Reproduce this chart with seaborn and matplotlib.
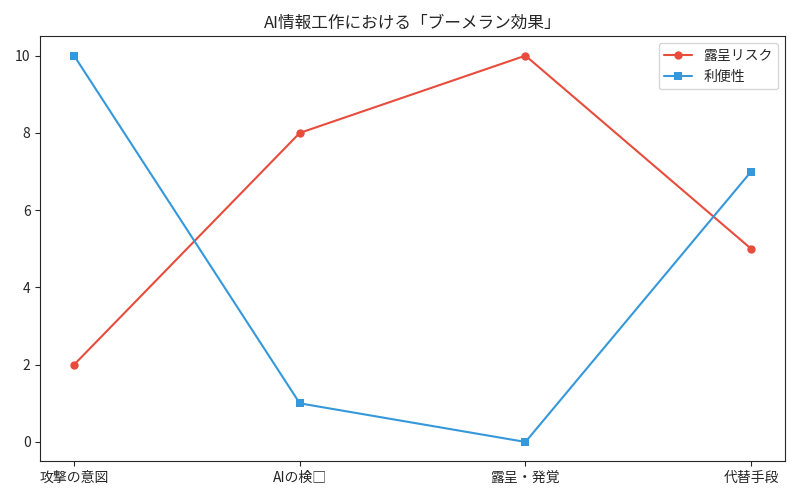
import matplotlib
matplotlib.use("Agg")
import matplotlib.pyplot as plt
import seaborn as sns
import pandas as pd

# Datos del gráfico
etapas = ["攻撃の意図", "AIの検□", "露呈・発覚", "代替手段"]
riesgo = [2, 8, 10, 5]
conveniencia = [10, 1, 0, 7]
series = ["露呈リスク", "利便性"]
colores = ["#e74c3c", "#3498db"]
marcadores = ["o", "s"]

sns.set_style("ticks")
plt.rcParams['font.family'] = ['Noto Sans CJK JP', 'DejaVu Sans']

pos = list(range(len(etapas)))
df = pd.DataFrame({
    "pos": pos * 2,
    "valor": riesgo + conveniencia,
    "serie": [series[0]] * len(etapas) + [series[1]] * len(etapas),
})

fig, ax = plt.subplots(figsize=(8, 5), dpi=100)
for nombre, color, mk in zip(series, colores, marcadores):
    sub = df[df["serie"] == nombre]
    sns.lineplot(data=sub, x="pos", y="valor", ax=ax, color=color, marker=mk,
                 markersize=6, markeredgewidth=0, linewidth=1.5, label=nombre)

ax.set_xticks(pos)
ax.set_xticklabels(etapas)
ax.set_xlabel("")
ax.set_ylabel("")
ax.set_title("AI情報工作における「ブーメラン効果」")
ax.legend(loc="upper right")
for s in ax.spines.values():
    s.set_visible(True)

plt.tight_layout()
plt.savefig("out.png")
plt.close()
